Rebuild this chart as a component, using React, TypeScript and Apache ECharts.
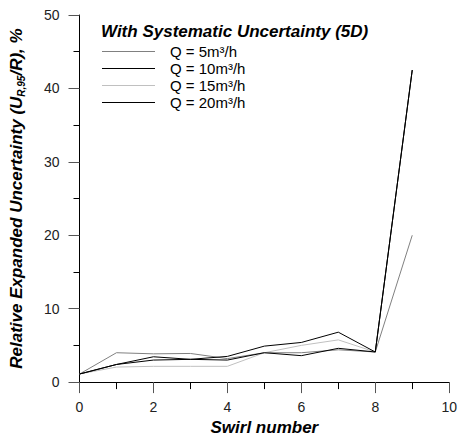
import React, { useEffect, useRef } from "react";
import * as echarts from "echarts";

const swirl = [0, 1, 2, 3, 4, 5, 6, 7, 8, 9];
const seriesNames = ["Q = 5m³/h", "Q = 10m³/h", "Q = 15m³/h", "Q = 20m³/h"];
const q5 = [1.1, 4.0, 3.85, 3.9, 3.2, 4.0, 4.0, 4.4, 4.1, 20.0];
const q10 = [1.1, 2.4, 3.45, 3.1, 3.0, 4.0, 3.6, 4.6, 4.1, 42.5];
const q15 = [1.1, 2.05, 2.15, 2.15, 2.15, 4.0, 5.0, 5.75, 4.1, 42.5];
const q20 = [1.1, 2.4, 3.0, 3.1, 3.5, 4.9, 5.4, 6.8, 4.1, 42.5];
const seriesValues = [q5, q10, q15, q20];
const seriesColors = ["#808080", "#000000", "#c0c0c0", "#000000"];

const FONT = "'Liberation Sans', Arial, sans-serif";

export default function App() {
  const ref = useRef<HTMLDivElement>(null);
  useEffect(() => {
    if (!ref.current) return;
    document.body.style.margin = "0";
    const chart = echarts.init(ref.current, undefined, { renderer: "svg" });
    chart.setOption({
      animation: false,
      backgroundColor: "#ffffff",
      textStyle: { fontFamily: FONT },
      title: {
        text: "With Systematic Uncertainty (5D)",
        left: 101,
        top: 23,
        padding: 0,
        textStyle: {
          fontFamily: FONT,
          fontSize: 17,
          fontWeight: "bold",
          fontStyle: "italic",
          color: "#000",
        },
      },
      legend: {
        orient: "vertical",
        left: 102,
        top: 43,
        padding: 0,
        itemGap: 0,
        itemWidth: 53,
        itemHeight: 17,
        icon: "path://M0,8 L53,8 L53,9 L0,9 Z",
        data: seriesNames,
        textStyle: {
          fontFamily: FONT,
          fontSize: 15,
          color: "#000",
          lineHeight: 17,
          padding: [0, 0, 0, 10],
        },
      },
      grid: { left: 79, right: 8, top: 15, bottom: 55, containLabel: false },
      xAxis: {
        type: "value",
        min: 0,
        max: 10,
        interval: 2,
        name: "Swirl number",
        nameLocation: "middle",
        nameGap: 34,
        nameTextStyle: {
          fontFamily: FONT,
          fontSize: 17,
          fontWeight: "bold",
          fontStyle: "italic",
          color: "#000",
        },
        axisLine: { show: true, lineStyle: { color: "#000", width: 1 } },
        axisTick: { show: true, inside: false, length: 11, lineStyle: { color: "#555" } },
        minorTick: { show: true, splitNumber: 2, length: 7, lineStyle: { color: "#000" } },
        axisLabel: { fontFamily: FONT, fontSize: 14, color: "#222", margin: 18 },
        splitLine: { show: false },
      },
      yAxis: {
        type: "value",
        min: 0,
        max: 50,
        interval: 10,
        name: "{a|Relative Expanded Uncertainty (U}{s|R,95}{a|/R), %}",
        nameLocation: "middle",
        nameRotate: 90,
        nameGap: 53,
        nameTextStyle: {
          rich: {
            a: {
              fontFamily: FONT,
              fontSize: 17,
              fontWeight: "bold",
              fontStyle: "italic",
              color: "#000",
              lineHeight: 20,
            },
            s: {
              fontFamily: FONT,
              fontSize: 10,
              fontWeight: "bold",
              fontStyle: "italic",
              color: "#000",
              lineHeight: 20,
              verticalAlign: "bottom",
              padding: [7, 0, 0, 0],
            },
          },
        },
        axisLine: { show: true, lineStyle: { color: "#000", width: 1 } },
        axisTick: { show: true, inside: false, length: 11, lineStyle: { color: "#555" } },
        minorTick: { show: true, splitNumber: 2, length: 6, lineStyle: { color: "#000" } },
        axisLabel: { fontFamily: FONT, fontSize: 14, color: "#222", margin: 20 },
        splitLine: { show: false },
      },
      series: seriesNames.map((name, i) => ({
        name,
        type: "line",
        data: swirl.map((x, j) => [x, seriesValues[i][j]]),
        showSymbol: false,
        symbol: "none",
        lineStyle: { color: seriesColors[i], width: 1 },
        itemStyle: { color: seriesColors[i] },
        z: i === 3 ? 5 : i === 1 ? 4 : 2,
      })),
    });
    return () => chart.dispose();
  }, []);
  return <div ref={ref} style={{ width: 460, height: 441 }} />;
}
